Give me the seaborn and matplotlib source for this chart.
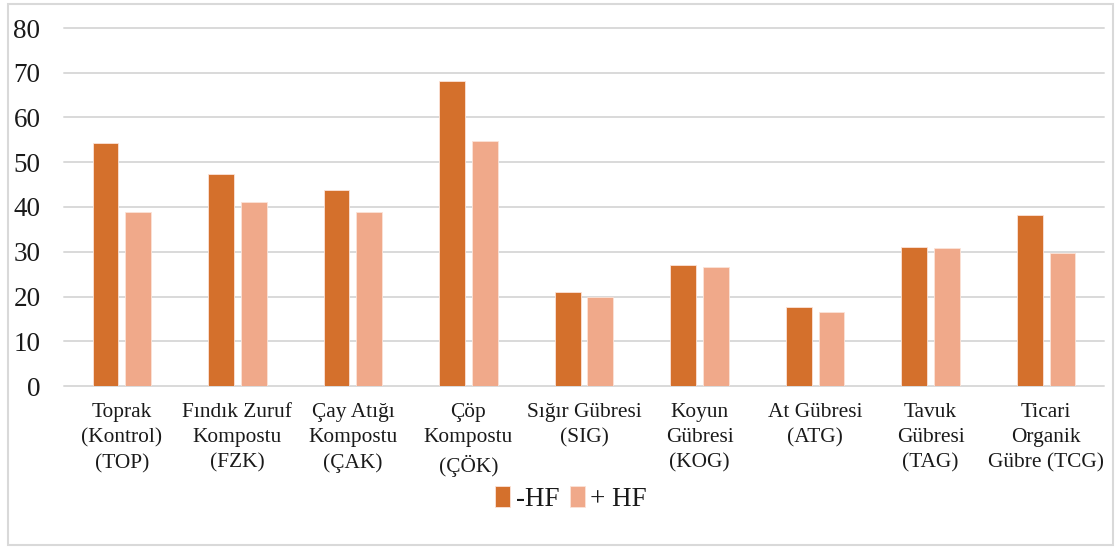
import matplotlib
matplotlib.use("Agg")
import matplotlib.pyplot as plt
from matplotlib.patches import Rectangle
import seaborn as sns
import pandas as pd

categories = [
    "Toprak\n(Kontrol)\n(TOP)",
    "Fındık Zuruf\nKompostu\n(FZK)",
    "Çay Atığı\nKompostu\n(ÇAK)",
    "Çöp\nKompostu\n(ÇÖK)",
    "Sığır Gübresi\n(SIG)",
    "Koyun\nGübresi\n(KOG)",
    "At Gübresi\n(ATG)",
    "Tavuk\nGübresi\n(TAG)",
    "Ticari\nOrganik\nGübre (TCG)",
]
series_names = ["-HF", "+ HF"]
minus_hf = [54.2, 47.3, 43.9, 68.2, 20.9, 27.1, 17.7, 31.1, 38.3]
plus_hf = [38.9, 41.2, 38.9, 54.8, 19.9, 26.7, 16.5, 30.9, 29.7]
y_ticks = [0, 10, 20, 30, 40, 50, 60, 70, 80]

colors = ["#D4702C", "#F0A98A"]

df = pd.DataFrame({
    "cat": categories * 2,
    "grp": [series_names[0]] * len(categories) + [series_names[1]] * len(categories),
    "val": minus_hf + plus_hf,
})

sns.set_theme(style="white")
plt.rcParams["font.family"] = ["Liberation Serif", "DejaVu Serif"]

fig = plt.figure(figsize=(11.17, 5.49), dpi=100)
W, H = 1117, 549
ax = fig.add_axes([64 / W, (H - 386) / H, (1104 - 64) / W, (386 - 28) / H])

sns.barplot(data=df, x="cat", y="val", hue="grp", order=categories,
            hue_order=series_names, palette=colors, width=0.565, gap=0.21,
            linewidth=0.6, edgecolor="#fbe3d8", saturation=1, ax=ax)

ax.set_ylim(0, 80)
ax.set_xlim(-0.5, len(categories) - 0.5)
ax.set_yticks(y_ticks)
ax.set_xlabel("")
ax.set_ylabel("")
for s in ax.spines.values():
    s.set_visible(False)
ax.grid(axis="y", color="#d9d9d9", linewidth=1.4)
ax.set_axisbelow(True)
for gl in ax.yaxis.get_gridlines():
    gl.set_clip_on(False)
ax.tick_params(axis="y", length=0, pad=17, labelsize=19.5, labelcolor="#1a1a1a")
ax.tick_params(axis="x", length=0, pad=12, labelsize=15.4, labelcolor="#1a1a1a")
for lab in ax.get_xticklabels():
    lab.set_linespacing(1.45)

handles, labels = ax.get_legend_handles_labels()
if ax.legend_ is not None:
    ax.legend_.remove()
fig.legend(handles, labels, loc="center", bbox_to_anchor=(571 / W, 1 - 499 / H),
           ncol=2, frameon=False, fontsize=19.5, handlelength=0.55, handleheight=0.8,
           handletextpad=0.2, columnspacing=0.4, labelcolor="#1a1a1a")

fig.patches.append(Rectangle((8 / W, 4 / H), (1113 - 8) / W, (545 - 4) / H,
                             transform=fig.transFigure, fill=False,
                             edgecolor="#d9d9d9", linewidth=1.5))

fig.savefig("out.png", dpi=100)
